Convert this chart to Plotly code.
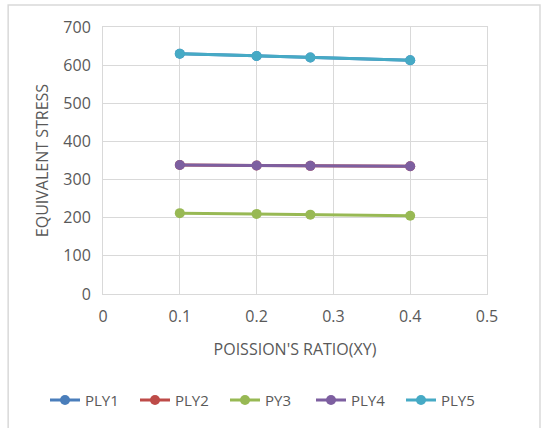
import plotly.graph_objects as go

x_vals = [0.1, 0.2, 0.27, 0.4]
ply1 = [630, 624, 620, 613]
ply2 = [338, 337, 336, 335]
py3 = [212, 210, 208, 205]
ply4 = [338, 337, 336, 335]
ply5 = [630, 624, 620, 613]

names = ["PLY1", "PLY2", "PY3", "PLY4", "PLY5"]
series = [ply1, ply2, py3, ply4, ply5]
colors = ["#4a7ebb", "#be4b48", "#98b954", "#7d5fa0", "#46aac5"]
legend_groups = ["legend", "legend", "legend", "legend2", "legend2"]

font_family = "Open Sans, Lato, sans-serif"
txt = "#595959"

fig = go.Figure()
for n, s, c, lg in zip(names, series, colors, legend_groups):
    fig.add_trace(go.Scatter(x=x_vals, y=s, name=n, mode="lines+markers",
                             line=dict(color=c, width=3),
                             marker=dict(color=c, size=10), legend=lg))

leg_common = dict(orientation="h", xref="container", yref="container",
                  xanchor="left", y=0.065, yanchor="middle",
                  entrywidth=45, font=dict(size=15, color=txt),
                  bgcolor="rgba(0,0,0,0)")

fig.update_layout(
    width=544, height=428,
    margin=dict(l=103, r=57, t=27, b=134, autoexpand=False),
    paper_bgcolor="white", plot_bgcolor="white",
    font=dict(family=font_family, color=txt, size=16),
    showlegend=True,
    legend=dict(x=45 / 544, **leg_common),
    legend2=dict(x=311 / 544, **leg_common),
    xaxis=dict(range=[0, 0.5], tickvals=[0, 0.1, 0.2, 0.3, 0.4, 0.5],
               ticktext=["0", "0.1", "0.2", "0.3", "0.4", "0.5"],
               showgrid=True, gridcolor="#d9d9d9", gridwidth=1,
               showline=True, linecolor="#d9d9d9", mirror=True, zeroline=False,
               ticks="", ticklabelstandoff=8, tickfont=dict(size=16, color=txt),
               title=dict(text="POISSION'S RATIO(XY)", font=dict(size=16, color=txt), standoff=17)),
    yaxis=dict(range=[0, 700], dtick=100,
               showgrid=True, gridcolor="#d9d9d9", gridwidth=1,
               showline=True, linecolor="#d9d9d9", mirror=True, zeroline=False,
               ticks="", ticklabelstandoff=8, tickfont=dict(size=16, color=txt),
               title=dict(text="EQUIVALENT STRESS", font=dict(size=16, color=txt), standoff=10)),
    shapes=[dict(type="rect", xref="paper", yref="paper",
                 x0=-0.247, x1=1.138, y0=-0.62, y1=1.082,
                 line=dict(color="#d9d9d9", width=1.5), fillcolor="rgba(0,0,0,0)", layer="below")],
)

fig.write_html("out.html")
